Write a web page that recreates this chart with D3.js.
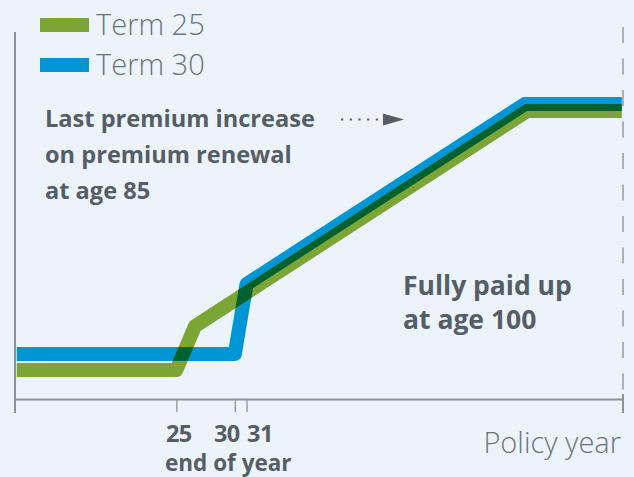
<!DOCTYPE html>
<html>
<head>
<meta charset="utf-8">
<script src="https://cdn.jsdelivr.net/npm/d3@7"></script>
<style>
  html, body { margin: 0; padding: 0; background: #edf3fb; }
  svg { display: block; font-family: "Open Sans", Lato, sans-serif; }
</style>
</head>
<body>
<svg id="chart" width="634" height="477"></svg>
<script>
// ---- data (schematic) ----
const seriesNames = ["Term 25", "Term 30"];
const term25Years = [11.35, 25, 26.6, 55, 63.1];
const term25Premium = [9.7, 9.7, 24.3, 96, 96];
const term30Years = [11.35, 30, 31, 54.8, 63.1];
const term30Premium = [15, 15, 38.3, 98.3, 98.3];
const tickYears = [25, 30, 31];
const tickLabels = ["25", "30", "31"];
const axisTitle = "Policy year";
const axisSubtitle = "end of year";
const noteLeft = ["Last premium increase", "on premium renewal", "at age 85"];
const noteRight = ["Fully paid up", "at age 100"];

// ---- layout ----
const W = 634, H = 477;
const green = "#7ba534", blue = "#0096d6", overlap = "#00602e";
const axisGray = "#8b9299", textDark = "#555d66", textLight = "#6b737c";

const x = d3.scaleLinear().domain([11.2, 63.2]).range([15, 623]);
const y = d3.scaleLinear().domain([0, 100]).range([399, 99]);

const svg = d3.select("#chart");
svg.append("rect").attr("width", W).attr("height", H).attr("fill", "#edf3fb");

const line = d3.line().x(d => x(d[0])).y(d => y(d[1]));
const d25 = term25Years.map((v, i) => [v, term25Premium[i]]);
const d30 = term30Years.map((v, i) => [v, term30Premium[i]]);

const defs = svg.append("defs");
const mask = defs.append("mask").attr("id", "blueMask").attr("maskUnits", "userSpaceOnUse")
  .attr("x", 0).attr("y", 0).attr("width", W).attr("height", H);
mask.append("rect").attr("width", W).attr("height", H).attr("fill", "black");
mask.append("path").attr("d", line(d30)).attr("fill", "none").attr("stroke", "white")
  .attr("stroke-width", 14).attr("stroke-linejoin", "round");

// dashed line at end
svg.append("line")
  .attr("x1", x.range()[1]).attr("x2", x.range()[1])
  .attr("y1", 27).attr("y2", y(0))
  .attr("stroke", "#a9b0b7").attr("stroke-width", 2).attr("stroke-dasharray", "16,15.5");

// lines
const lineStyle = sel => sel.attr("fill", "none").attr("stroke-width", 14)
  .attr("stroke-linejoin", "round").attr("stroke-linecap", "butt");
svg.append("path").attr("d", line(d30)).attr("stroke", blue).call(lineStyle);
svg.append("path").attr("d", line(d25)).attr("stroke", green).call(lineStyle);
svg.append("path").attr("d", line(d25)).attr("stroke", overlap).call(lineStyle)
  .attr("mask", "url(#blueMask)");

// x axis
const axis = d3.axisBottom(x).tickValues(tickYears).tickSize(13).tickSizeOuter(0).tickFormat("");
const gx = svg.append("g").attr("transform", `translate(0,${y(0)})`).call(axis);
gx.select(".domain").attr("stroke", axisGray).attr("stroke-width", 2);
gx.selectAll(".tick line").attr("stroke", axisGray).attr("stroke-width", 1.3);

// left vertical axis line and right end tick
svg.append("line").attr("x1", x.range()[0]).attr("x2", x.range()[0])
  .attr("y1", 32).attr("y2", 413).attr("stroke", axisGray).attr("stroke-width", 2);
svg.append("line").attr("x1", x.range()[1]).attr("x2", x.range()[1])
  .attr("y1", 394).attr("y2", 413).attr("stroke", axisGray).attr("stroke-width", 2);

// tick labels
const labelAnchor = ["middle", "middle", "start"];
const labelDx = [2.5, -8, 0.5];
svg.selectAll("text.tl").data(tickYears).join("text").attr("class", "tl")
  .attr("x", (d, i) => x(d) + labelDx[i]).attr("y", 441.5)
  .attr("text-anchor", (d, i) => labelAnchor[i])
  .attr("font-size", 23.5).attr("font-weight", 700).attr("fill", textDark)
  .attr("letter-spacing", -0.5)
  .text((d, i) => tickLabels[i]);
svg.append("text").attr("x", 165).attr("y", 471)
  .attr("font-size", 22.5).attr("font-weight", 700).attr("fill", textDark)
  .text(axisSubtitle);
svg.append("text").attr("x", 621).attr("y", 453).attr("text-anchor", "end")
  .attr("font-size", 29).attr("font-weight", 300).attr("fill", textLight).text(axisTitle);

// legend
const legColors = [green, blue];
const leg = svg.selectAll("g.leg").data(seriesNames).join("g").attr("class", "leg")
  .attr("transform", (d, i) => `translate(40,${18 + i * 40})`);
leg.append("rect").attr("width", 49).attr("height", 14).attr("fill", (d, i) => legColors[i]);
leg.append("text").attr("x", 56).attr("y", 16.5)
  .attr("font-size", 29).attr("font-weight", 300).attr("fill", textLight).text(d => d);

// annotations
svg.append("text").attr("font-size", 23.6).attr("font-weight", 700).attr("fill", textDark)
  .selectAll("tspan").data(noteLeft).join("tspan")
  .attr("x", 45).attr("y", (d, i) => 126.5 + i * 36).text(d => d);
svg.append("text").attr("font-size", 26.5).attr("font-weight", 700).attr("fill", textDark)
  .selectAll("tspan").data(noteRight).join("tspan")
  .attr("x", 403).attr("y", (d, i) => 295 + i * 34).text(d => d);

// dotted arrow
svg.append("line").attr("x1", 341).attr("x2", 383).attr("y1", 119.5).attr("y2", 119.5)
  .attr("stroke", textDark).attr("stroke-width", 2.2).attr("stroke-dasharray", "2.2,6.5");
svg.append("path").attr("d", "M383,113.5 L404,119.5 L383,125.5 Z").attr("fill", textDark);
</script>
</body>
</html>
